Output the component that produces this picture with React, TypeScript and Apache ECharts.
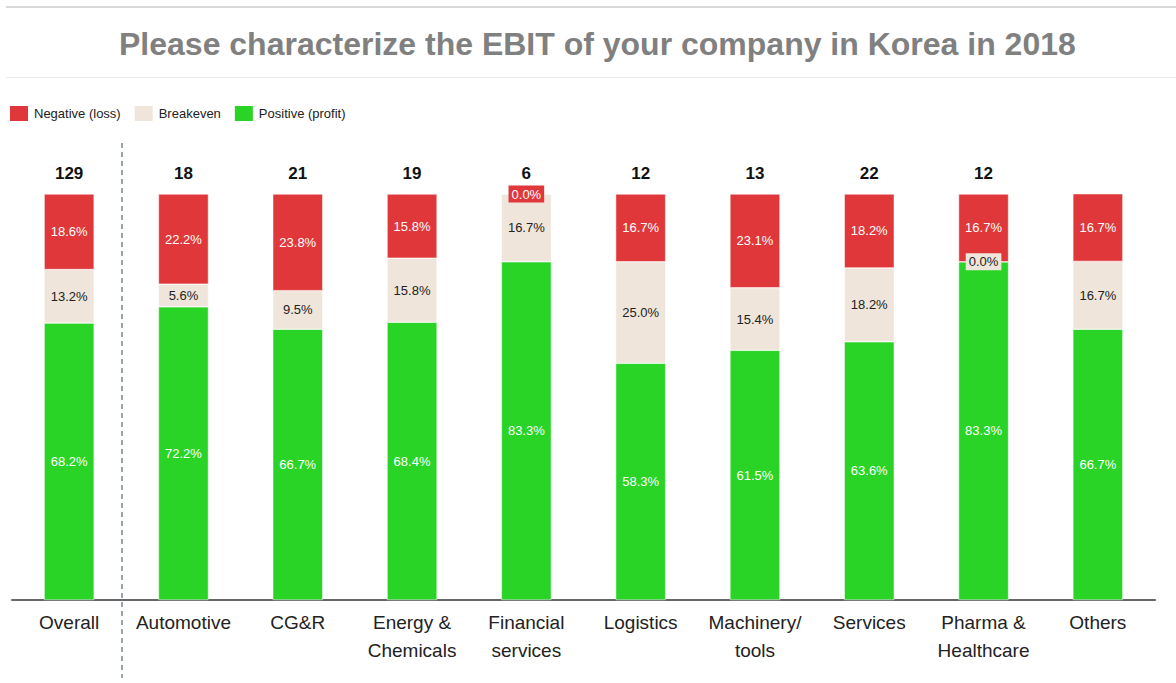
import React, { useEffect, useRef } from "react";
import * as echarts from "echarts";

const categories = [
  "Overall",
  "Automotive",
  "CG&R",
  "Energy &\nChemicals",
  "Financial\nservices",
  "Logistics",
  "Machinery/\ntools",
  "Services",
  "Pharma &\nHealthcare",
  "Others",
];
const totals = [129, 18, 21, 19, 6, 12, 13, 22, 12, 6];
const negative = [18.6, 22.2, 23.8, 15.8, 0.0, 16.7, 23.1, 18.2, 16.7, 16.7];
const breakeven = [13.2, 5.6, 9.5, 15.8, 16.7, 25.0, 15.4, 18.2, 0.0, 16.7];
const positive = [68.2, 72.2, 66.7, 68.4, 83.3, 58.3, 61.5, 63.6, 83.3, 66.7];

const RED = "#E0383A";
const BEIGE = "#EFE5DA";
const GREEN = "#29D426";
const FONT = "'Liberation Sans', Arial, sans-serif";

function withZeroLabels(values: number[], bg: string, textColor: string) {
  return values.map((v) =>
    v === 0
      ? {
          value: v,
          label: {
            show: true,
            backgroundColor: bg,
            color: textColor,
            padding: [2, 3, 2, 3],
          },
        }
      : v
  );
}

export default function App() {
  const ref = useRef<HTMLDivElement>(null);
  useEffect(() => {
    if (!ref.current) return;
    const chart = echarts.init(ref.current, null, { renderer: "svg" });
    const labelBase = {
      show: true,
      position: "inside" as const,
      fontFamily: FONT,
      fontSize: 13,
      formatter: (p: any) => Number(p.value).toFixed(1) + "%",
    };
    chart.setOption({
      animation: false,
      backgroundColor: "#fff",
      textStyle: { fontFamily: FONT },
      title: {
        text: "Please characterize the EBIT of your company in Korea in 2018",
        left: 114,
        top: 23,
        textStyle: {
          fontFamily: FONT,
          fontWeight: "bold",
          fontSize: 32,
          color: "#808080",
        },
      },
      legend: {
        left: 3,
        top: 99,
        itemWidth: 20,
        itemHeight: 17,
        itemGap: 12,
        icon: "rect",
        textStyle: { fontFamily: FONT, fontSize: 13, color: "#222" },
        data: ["Negative (loss)", "Breakeven", "Positive (profit)"],
      },
      grid: { left: 12, right: 21, top: 194, bottom: 83, containLabel: false },
      xAxis: {
        type: "category",
        data: categories,
        axisLine: { lineStyle: { color: "#666", width: 2 } },
        axisTick: { show: false },
        axisLabel: {
          fontFamily: FONT,
          fontSize: 19,
          color: "#222",
          lineHeight: 28,
          margin: 8,
          interval: 0,
        },
      },
      yAxis: { type: "value", min: 0, max: 100, show: false },
      series: [
        {
          name: "Positive (profit)",
          type: "bar",
          stack: "s",
          barWidth: 50,
          itemStyle: { color: GREEN, borderColor: "#fff", borderWidth: 0.5 },
          label: { ...labelBase, color: "#fff" },
          data: positive,
        },
        {
          name: "Breakeven",
          type: "bar",
          stack: "s",
          itemStyle: { color: BEIGE, borderColor: "#fff", borderWidth: 0.5 },
          label: { ...labelBase, color: "#222" },
          data: withZeroLabels(breakeven, BEIGE, "#222"),
        },
        {
          name: "Negative (loss)",
          type: "bar",
          stack: "s",
          itemStyle: { color: RED, borderColor: "#fff", borderWidth: 0.5 },
          label: { ...labelBase, color: "#fff" },
          data: withZeroLabels(negative, RED, "#fff"),
        },
        {
          name: "total",
          type: "bar",
          stack: "s",
          itemStyle: { color: "transparent" },
          label: {
            show: true,
            position: "top",
            distance: 12,
            fontFamily: FONT,
            fontWeight: "bold",
            fontSize: 17,
            color: "#111",
            formatter: (p: any) => String(totals[p.dataIndex]),
          },
          data: totals.map(() => 0),
          tooltip: { show: false },
        },
      ],
      graphic: [
        {
          type: "line",
          shape: { x1: 6, y1: 7, x2: 1176, y2: 7 },
          style: { stroke: "#d9d9d9", lineWidth: 2 },
        },
        {
          type: "line",
          shape: { x1: 6, y1: 77.5, x2: 1176, y2: 77.5 },
          style: { stroke: "#e8e8e8", lineWidth: 1 },
        },
        {
          type: "line",
          shape: { x1: 122, y1: 143, x2: 122, y2: 678 },
          style: { stroke: "#2F4A63", lineWidth: 1, lineDash: [5, 4] },
        },
      ],
    });
    return () => chart.dispose();
  }, []);
  return (
    <div
      ref={ref}
      style={{ position: "fixed", left: 0, top: 0, width: 1176, height: 683 }}
    />
  );
}
